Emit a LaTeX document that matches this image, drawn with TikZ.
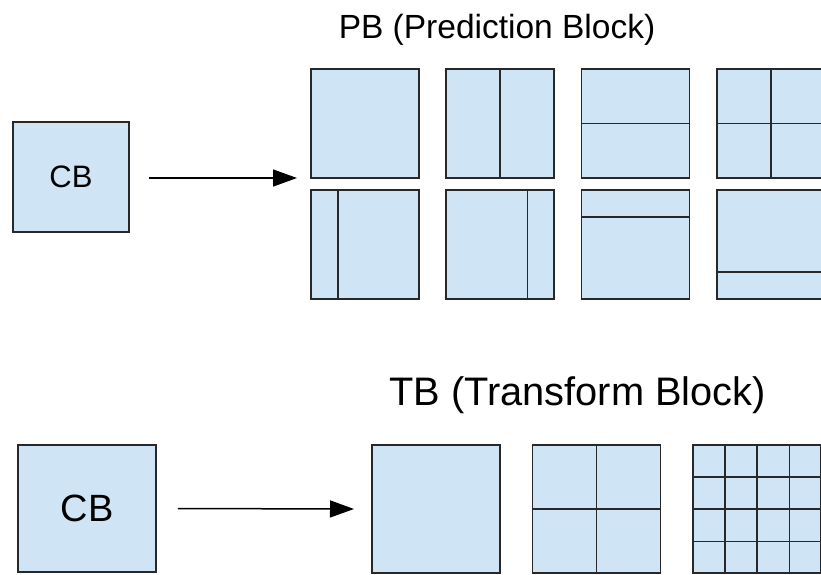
\documentclass[tikz,border=0pt]{standalone}
\usepackage{fontspec}
\setmainfont{Liberation Sans}
\usetikzlibrary{arrows.meta,calc}

\definecolor{cellfill}{RGB}{207,228,244}
\definecolor{cellline}{RGB}{40,40,40}

\tikzset{
  blk/.style={draw=cellline, fill=cellfill, line width=1.8pt, inner sep=0pt,
              rectangle, anchor=center},
  pbblk/.style={blk, minimum width=108pt, minimum height=109pt},
  tbblk/.style={blk, minimum width=128pt, minimum height=128pt},
  split/.style={draw=cellline, line width=1.9pt},
  flow/.style={draw=black, line width=1.5pt,
               -{Triangle[length=24pt,width=17pt]}},
  title/.style={anchor=base, inner sep=0pt, text=black}
}

\begin{document}
\begin{tikzpicture}[x=1pt,y=-1pt]
  \useasboundingbox (0,0) rectangle (821,574);
  \clip (0,0) rectangle (821,574);
  \fill[white] (0,0) rectangle (821,574);

  % ---------- prediction blocks ----------
  \node[title, font=\fontsize{33.5}{40}\selectfont] (pbtitle) at (497,38) {PB (Prediction Block)};

  \node[blk, minimum width=116pt, minimum height=110pt,
        font=\fontsize{31}{36}\selectfont] (cbA) at (71,177) {CB};

  \node[pbblk] (p1) at (365,123.5) {};
  \node[pbblk] (p2) at (500,123.5) {};
  \node[pbblk] (p3) at (635.5,123.5) {};
  \node[pbblk] (p4) at (771,123.5) {};
  \node[pbblk] (p5) at (365,244.5) {};
  \node[pbblk] (p6) at (500,244.5) {};
  \node[pbblk] (p7) at (635.5,244.5) {};
  \node[pbblk] (p8) at (771,244.5) {};

  % partitions: 2Nx2N, Nx2N, 2NxN, NxN, nLx2N, nRx2N, 2NxnU, 2NxnD
  \draw[split] (p2.north) -- (p2.south);
  \draw[split] (p3.west) -- (p3.east);
  \draw[split] (p4.north) -- (p4.south);
  \draw[split] (p4.west) -- (p4.east);
  \draw[split] ($(p5.north west)!0.25!(p5.north east)$) -- ($(p5.south west)!0.25!(p5.south east)$);
  \draw[split] ($(p6.north west)!0.75!(p6.north east)$) -- ($(p6.south west)!0.75!(p6.south east)$);
  \draw[split] ($(p7.north west)!0.25!(p7.south west)$) -- ($(p7.north east)!0.25!(p7.south east)$);
  \draw[split] ($(p8.north west)!0.75!(p8.south west)$) -- ($(p8.north east)!0.75!(p8.south east)$);

  \coordinate (pbIn) at (297,178);
  \draw[flow] ([xshift=19pt,yshift=-1pt]cbA.east) -- (pbIn);

  % ---------- transform blocks ----------
  \node[title, font=\fontsize{39.8}{46}\selectfont] (tbtitle) at (577.5,405) {TB (Transform Block)};

  \node[blk, minimum width=138pt, minimum height=127pt,
        font=\fontsize{38}{44}\selectfont] (cbB) at (87,508.5) {CB};

  \node[tbblk] (t1) at (436,509) {};
  \node[tbblk] (t2) at (596.5,509) {};
  \node[tbblk] (t3) at (757,509) {};

  \draw[split] (t2.north) -- (t2.south);
  \draw[split] (t2.west) -- (t2.east);
  \foreach \f in {0.25,0.5,0.75} {
    \draw[split] ($(t3.north west)!\f!(t3.north east)$) -- ($(t3.south west)!\f!(t3.south east)$);
    \draw[split] ($(t3.north west)!\f!(t3.south west)$) -- ($(t3.north east)!\f!(t3.south east)$);
  }

  \coordinate (tbIn) at (354,509);
  \draw[flow] ([xshift=21pt]cbB.east) -- (tbIn);
\end{tikzpicture}
\end{document}
